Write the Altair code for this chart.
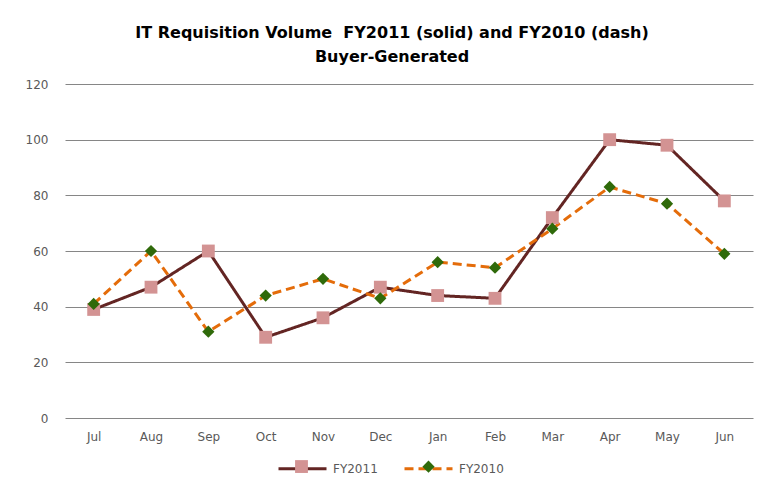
import altair as alt
import pandas as pd

months = ["Jul", "Aug", "Sep", "Oct", "Nov", "Dec", "Jan", "Feb", "Mar", "Apr", "May", "Jun"]
fy2011 = [39, 47, 60, 29, 36, 47, 44, 43, 72, 100, 98, 78]
fy2010 = [41, 60, 31, 44, 50, 43, 56, 54, 68, 83, 77, 59]
series_names = ["FY2011", "FY2010"]
marker_keys = ["FY2011\u200b", "FY2010\u200b"]
y_ticks = [0, 20, 40, 60, 80, 100, 120]

line_colors = ["#632523", "#E46C0A"]
line_dashes = [[1, 0], [9, 5]]
marker_fills = ["#D39393", "#2F6A0A"]
marker_shapes = ["square", "diamond"]
marker_sizes = [165, 150]

df = pd.DataFrame({
    "month": months * 2,
    "value": fy2011 + fy2010,
    "series": [series_names[0]] * len(months) + [series_names[1]] * len(months),
    "marker": [marker_keys[0]] * len(months) + [marker_keys[1]] * len(months),
})

FONT = "DejaVu Sans"
LABEL_COLOR = "#595959"

x_enc = alt.X(
    "month:N",
    sort=months,
    scale=alt.Scale(domain=months),
    axis=alt.Axis(title=None, labelAngle=0, ticks=False, domain=False, grid=False,
                  labelPadding=13, labelFont=FONT, labelFontSize=12, labelColor=LABEL_COLOR),
)
y_enc = alt.Y(
    "value:Q",
    scale=alt.Scale(domain=[0, 120], nice=False),
    axis=alt.Axis(title=None, values=y_ticks, ticks=False, domain=False, grid=True,
                  gridColor="#868686", gridWidth=1, labelPadding=17,
                  labelFont=FONT, labelFontSize=12, labelColor=LABEL_COLOR),
)

line_legend = alt.Legend(
    title=None, orient="none", legendX=212, legendY=359, direction="horizontal",
    symbolType="stroke", symbolSize=2304, symbolStrokeWidth=3,
    labelFont=FONT, labelFontSize=12, labelColor=LABEL_COLOR,
    labelOffset=5, columnPadding=20, padding=0,
)
marker_legend = alt.Legend(
    title=None, orient="none", legendX=230, legendY=376, direction="horizontal",
    labelFont=FONT, labelFontSize=12, labelColor=LABEL_COLOR, labelExpr="''",
    labelOffset=5, columnPadding=109, padding=0, symbolStrokeWidth=0,
)

lines = alt.Chart(df).mark_line(strokeWidth=3).encode(
    x=x_enc,
    y=y_enc,
    color=alt.Color("series:N", scale=alt.Scale(domain=series_names, range=line_colors),
                    legend=line_legend),
    strokeDash=alt.StrokeDash("series:N", scale=alt.Scale(domain=series_names, range=line_dashes),
                              legend=line_legend),
)

points = alt.Chart(df).mark_point(filled=True, opacity=1).encode(
    x=x_enc,
    y=y_enc,
    fill=alt.Fill("marker:N", scale=alt.Scale(domain=marker_keys, range=marker_fills),
                  legend=marker_legend),
    shape=alt.Shape("marker:N", scale=alt.Scale(domain=marker_keys, range=marker_shapes),
                    legend=marker_legend),
    size=alt.Size("marker:N", scale=alt.Scale(domain=marker_keys, range=marker_sizes),
                  legend=marker_legend),
)

chart = alt.layer(lines, points).properties(
    width=688,
    height=334,
    background="white",
    title=alt.TitleParams(
        text=["IT Requisition Volume\u00a0\u00a0FY2011 (solid) and FY2010 (dash)", "Buyer-Generated"],
        font=FONT, fontSize=16, fontWeight="bold", color="#000000",
        lineHeight=24, offset=13, dx=-17, anchor="middle",
    ),
    padding={"left": 57, "top": 76, "right": 2, "bottom": 65},
    autosize=alt.AutoSizeParams(type="none"),
).configure_view(stroke=None)

chart.save("out.html", embed_options={"renderer": "svg", "actions": False})
